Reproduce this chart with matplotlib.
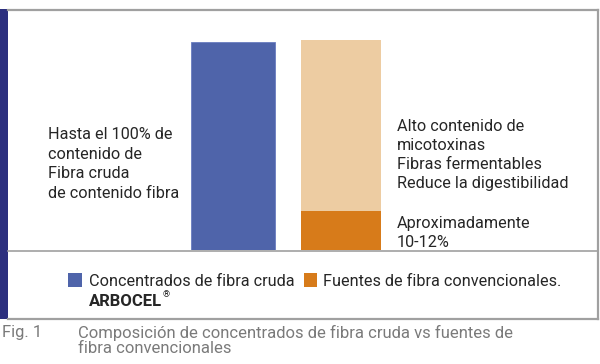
import matplotlib.pyplot as plt
from matplotlib.patches import Rectangle
from matplotlib.lines import Line2D

plt.rcParams['font.family'] = ['Roboto', 'DejaVu Sans']

# data (percent of crude fibre content)
categories = ["ARBOCEL", "Convencional"]
fibra_cruda = [100, 18.8]
resto = [0, 82.2]

labels_left = "Hasta el 100% de\ncontenido de\nFibra cruda\nde contenido fibra"
labels_right_top = "Alto contenido de\nmicotoxinas\nFibras fermentables\nReduce la digestibilidad"
labels_right_low = "Aproximadamente\n10-12%"
legend_labels = ["Concentrados de fibra cruda", "Fuentes de fibra convencionales."]
caption = "Composición de concentrados de fibra cruda vs fuentes de\nfibra convencionales"

blue = "#4f64aa"
dark_orange = "#d77b1a"
light_orange = "#edcca2"
text_col = "#262626"
gray = "#a0a0a0"
cap_col = "#7a7a7a"

W, H = 600, 364
fig = plt.figure(figsize=(6, 3.64), dpi=100)

def fx(px):
    return px / W

def fy(py):
    return 1 - py / H

# chart axes: x from 9 to 598 px, baseline at 250 px, top at 9 px
ax = fig.add_axes([fx(9), fy(250), fx(598 - 9), (250 - 9) / H])
ax.set_ylim(0, 100 * 241 / 208)
# bar centres at 233 px and 341 px -> one unit = 108 px
ax.set_xlim(-(233 - 9) / 108, (598 - 233) / 108)
x = [0, 1]
ax.bar(x[0], fibra_cruda[0], width=84 / 108, color=blue, edgecolor="#6a7dc0", linewidth=0.6)
ax.bar(x[1], fibra_cruda[1], width=80 / 108, color=dark_orange)
ax.bar(x[1], resto[1], bottom=fibra_cruda[1], width=80 / 108, color=light_orange)
ax.axis("off")

# frame lines
fig.add_artist(Line2D([fx(8), fx(598)], [fy(9.5), fy(9.5)], color=gray, lw=1.6))
fig.add_artist(Line2D([fx(598), fx(598)], [fy(9.5), fy(318.5)], color=gray, lw=1.6))
fig.add_artist(Line2D([fx(8), fx(598)], [fy(318.5), fy(318.5)], color=gray, lw=1.6))
fig.add_artist(Line2D([fx(8), fx(598)], [fy(250.5), fy(250.5)], color=gray, lw=1.2))
fig.add_artist(Rectangle((0, fy(319)), fx(8), (319 - 9) / H, color="#2c2f7e", lw=0))

# annotations
fs = 11.7
fig.text(fx(48), fy(164), labels_left, fontsize=fs, color=text_col, va="center", linespacing=1.39)
fig.text(fx(397), fy(155), labels_right_top, fontsize=fs, color=text_col, va="center", linespacing=1.34)
fig.text(fx(397), fy(233), labels_right_low, fontsize=fs, color=text_col, va="center", linespacing=1.39)

# legend
fig.add_artist(Rectangle((fx(68), fy(287)), fx(14), 14 / H, color=blue, lw=0))
fig.text(fx(89), fy(282), legend_labels[0], fontsize=fs, color=text_col, va="center")
fig.add_artist(Rectangle((fx(304), fy(287)), fx(13), 14 / H, color=dark_orange, lw=0))
fig.text(fx(323), fy(282), legend_labels[1], fontsize=fs, color=text_col, va="center")
arb = fig.text(fx(89), fy(302), "ARBOCEL", fontsize=12, color=text_col, va="center",
               fontweight="bold")
ax.annotate("®", xy=(1, 1), xycoords=arb, xytext=(0.5, 3), textcoords="offset points",
            fontsize=6.5, color=text_col, va="top", ha="left", annotation_clip=False)

# caption
fig.text(fx(2), fy(332), "Fig. 1", fontsize=12, color=cap_col, va="center")
fig.text(fx(78), fy(340), caption, fontsize=12, color=cap_col, va="center", linespacing=1.0)

fig.savefig("out.png", dpi=100)
